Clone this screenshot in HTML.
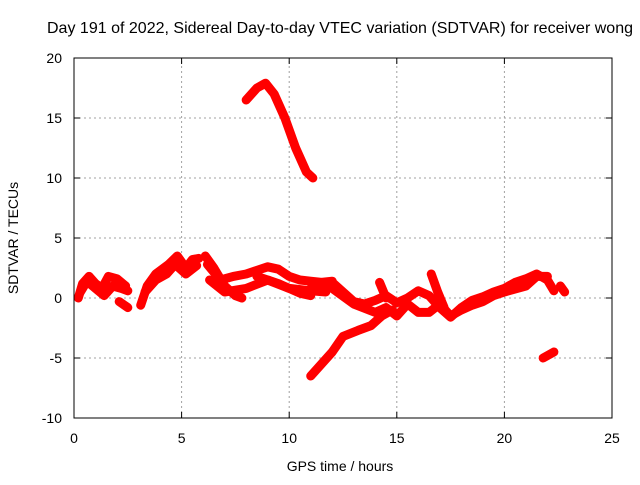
<!DOCTYPE html>
<html><head><meta charset="utf-8"><style>
body{margin:0;background:#fff}
svg text{font-family:"Liberation Sans",sans-serif;fill:#000}
</style></head><body>
<svg id="chart" width="640" height="480" xmlns="http://www.w3.org/2000/svg">
<text x="340" y="33" font-size="16" text-anchor="middle" textLength="586">Day 191 of 2022, Sidereal Day-to-day VTEC variation (SDTVAR) for receiver wong</text>
<g id="grid"></g>
<g id="ticks"></g>
<g id="series"></g>
<rect x="74" y="58" width="538" height="360" fill="none" stroke="#000" stroke-width="1"/>
<text x="340" y="471" font-size="14" text-anchor="middle">GPS time / hours</text>
<text x="0" y="0" font-size="14" text-anchor="middle" transform="translate(18,238) rotate(-90)">SDTVAR / TECUs</text>
</svg>
<script>
const xTicks=[0,5,10,15,20,25];
const yTicks=[-10,-5,0,5,10,15,20];
const seriesA1=[[0.2,0],[0.4,1.2],[0.7,1.8],[1.0,1.2],[1.3,0.8],[1.6,1.8],[2.0,1.6],[2.4,1.0]];
const seriesA2=[[0.3,0.5],[0.6,1.4],[1.0,0.8],[1.4,0.2],[1.8,1.0],[2.2,0.8],[2.5,0.6]];
const seriesA3=[[2.1,-0.3],[2.5,-0.8]];
const seriesB1=[[3.1,-0.6],[3.4,1.0],[3.8,2.0],[4.4,2.8],[4.8,3.5],[5.2,2.5],[5.5,3.2],[5.8,3.3]];
const seriesB2=[[3.3,0.5],[3.8,1.5],[4.3,2.0],[4.7,2.8],[5.2,2.0],[5.7,2.7]];
const seriesC1=[[6.1,3.5],[6.5,2.5],[7.0,1.0],[7.5,0.2],[7.8,0]];
const seriesC2=[[6.2,2.8],[6.8,1.5],[7.4,1.8],[8.0,2.0],[8.5,2.3],[9.0,2.6],[9.5,2.4],[10.0,1.8],[10.5,1.5],[11,1.4],[11.5,1.3],[12,1.4]];
const seriesC3=[[6.3,1.5],[7.0,0.5],[8,0.8],[9.0,1.5],[10,0.8],[11,0.6],[11.7,0.5]];
const seriesC4=[[8.5,1.8],[9.5,1.2],[10.5,0.4],[11,0.2]];
const seriesD1=[[11,0.8],[12,1.3],[12.5,0.5],[13,-0.3],[13.5,-0.5],[14,-0.2],[14.5,0.2],[15,-0.4],[15.5,0],[16,0.6],[16.5,0.2],[17,-0.8],[17.5,-1.6],[18,-0.8],[18.5,-0.2],[19,0.1],[19.5,0.5],[20,0.8],[20.5,1.3],[21,1.6],[21.5,2.0],[22,1.5],[22.3,0.6]];
const seriesD2=[[12,0.8],[13,-0.5],[14,-1.2],[14.5,-0.8],[15,-1.5],[15.5,-0.5],[16,-1.2],[16.5,-1.2],[17,-0.5],[17.5,-1.5],[18,-1.0],[18.5,-0.6],[19,-0.3],[19.5,0.2],[20,0.5],[21,1.0],[21.5,1.8],[22,1.8]];
const seriesD3=[[16.6,2.0],[16.9,0.5],[17.2,-0.8]];
const seriesD4=[[14.2,1.3],[14.5,0]];
const seriesD5=[[22.6,1.0],[22.8,0.5]];
const seriesE=[[11.0,-6.5],[11.5,-5.5],[12,-4.5],[12.5,-3.2],[13.2,-2.7],[13.8,-2.3],[14.3,-1.5],[14.8,-1.0]];
const seriesF=[[21.8,-5],[22.3,-4.5]];
const seriesG=[[8.0,16.5],[8.5,17.5],[8.9,17.9],[9.3,17],[9.8,15],[10.3,12.5],[10.8,10.5],[11.1,10]];
const allSeries=[seriesA1,seriesA2,seriesA3,seriesB1,seriesB2,seriesC1,seriesC2,seriesC3,seriesC4,seriesD1,seriesD2,seriesD3,seriesD4,seriesD5,seriesE,seriesF,seriesG];

const NS="http://www.w3.org/2000/svg";
const X0=74,X1=612,Y0=418,Y1=58;
function xs(v){return X0+(v-0)/(25-0)*(X1-X0);}
function ys(v){return Y0-(v+10)/(30)*(Y0-Y1);}
const grid=document.getElementById('grid'),ticks=document.getElementById('ticks'),ser=document.getElementById('series');
function mk(t,a){const e=document.createElementNS(NS,t);for(const k in a)e.setAttribute(k,a[k]);return e;}
xTicks.forEach(t=>{
  const x=xs(t);
  if(t>0&&t<25){const g=mk('line',{x1:x,x2:x,y1:Y0,y2:Y1,stroke:'#a0a0a0','stroke-dasharray':'2,3'});
  
  
  grid.appendChild(g);}
  const l=mk('text',{x:x,y:443,'font-size':14,'text-anchor':'middle'});l.textContent=t;
  
  
  ticks.appendChild(l);
  [[Y0,Y0-6],[Y1,Y1+6]].forEach(p=>ticks.appendChild(mk('line',{x1:x,x2:x,y1:p[0],y2:p[1],stroke:'#000'})));
});
yTicks.forEach(t=>{
  const y=ys(t);
  if(t>-10&&t<20){const g=mk('line',{x1:X0,x2:X1,y1:y,y2:y,stroke:'#a0a0a0','stroke-dasharray':'2,3'});
  
  
  grid.appendChild(g);}
  const l=mk('text',{x:62,y:y+5,'font-size':14,'text-anchor':'end'});l.textContent=t;
  
  
  ticks.appendChild(l);
  [[X0,X0+6],[X1,X1-6]].forEach(p=>ticks.appendChild(mk('line',{x1:p[0],x2:p[1],y1:y,y2:y,stroke:'#000'})));
});
allSeries.forEach((s,i)=>{
  const p=mk('polyline',{points:s.map(d=>xs(d[0])+','+ys(d[1])).join(' '),fill:'none',stroke:'#ff0000','stroke-width':9,'stroke-linejoin':'round','stroke-linecap':'round'});
  
  
  ser.appendChild(p);
});
</script>
</body></html>
